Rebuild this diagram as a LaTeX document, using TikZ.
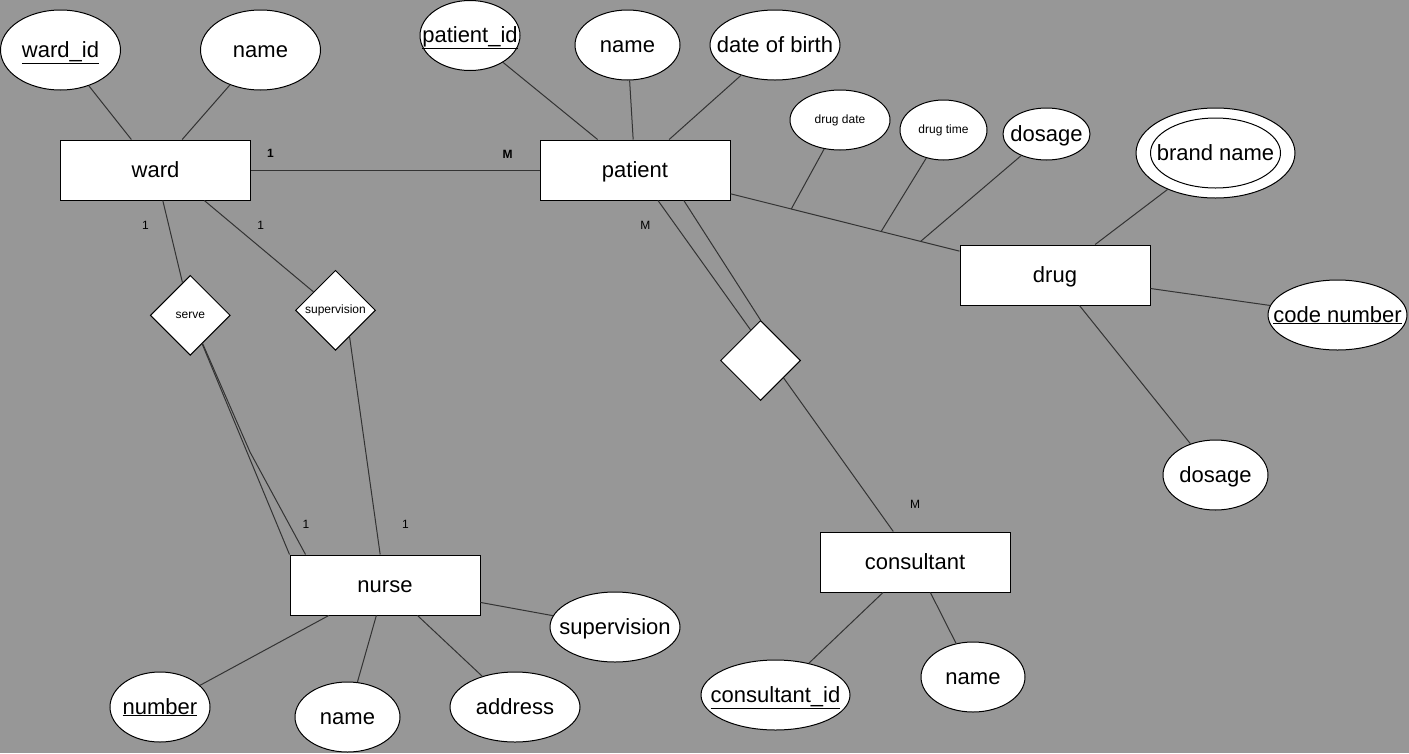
\documentclass[tikz,border=0pt]{standalone}
\usepackage{fontspec}
\setmainfont{Liberation Sans}
\usetikzlibrary{shapes.geometric,calc}
\definecolor{canvas}{RGB}{151,151,151}
\definecolor{wire}{RGB}{51,51,51}
\newcommand{\fitin}[1]{\makebox[0pt]{#1}}

\begin{document}
\begin{tikzpicture}[x=1pt,y=-1pt,
  entity/.style={draw=black,fill=white,line width=1pt,minimum width=190pt,minimum height=60pt,inner sep=0pt,text height=17pt,text depth=3pt,font=\fontsize{22}{26}\selectfont},
  attrib/.style={ellipse,draw=black,fill=white,line width=1pt,inner sep=0pt,text height=17pt,text depth=3pt,font=\fontsize{22}{26}\selectfont},
  smallattr/.style={attrib,text height=9pt,text depth=2pt,font=\fontsize{12}{14}\selectfont},
  relship/.style={diamond,draw=black,fill=white,line width=1pt,inner sep=0pt,minimum width=80pt,minimum height=80pt,text height=9pt,text depth=2pt,font=\fontsize{12}{14}\selectfont},
  link/.style={draw=wire,line width=1pt},
  card/.style={inner sep=0pt,font=\fontsize{12}{14}\selectfont}]
\useasboundingbox (0,0) rectangle (1409,753);
\fill[canvas] (0,0) rectangle (1409,753);

% Entities
\node[entity] (ward) at (155.5,170) {ward};
\node[entity] (patient) at (635,170) {patient};
\node[entity] (drug) at (1055,275) {drug};
\node[entity] (nurse) at (385,585) {nurse};
\node[entity] (consultant) at (915,562) {consultant};

% Relationships
\node[relship] (serve) at (190.3,315.3) {serve};
\node[relship] (supervise) at (335.5,310.3) {\fitin{supervision}};
\node[relship] (consults) at (760.5,360.5) {};

% Ward attributes
\node[attrib,minimum width=120pt,minimum height=80pt] (wardid) at (60.5,50) {\fitin{\underline{ward\_id}}};
\node[attrib,minimum width=120pt,minimum height=80pt] (wardname) at (260.5,50) {\fitin{name}};

% Patient attributes
\node[attrib,minimum width=100pt,minimum height=70pt] (patientid) at (470,35.5) {\fitin{\underline{patient\_id}}};
\node[attrib,minimum width=105pt,minimum height=70pt] (patientname) at (627.5,45) {\fitin{name}};
\node[attrib,minimum width=130pt,minimum height=70pt] (birth) at (775,45) {\fitin{date of birth}};

% Prescription attributes
\node[smallattr,minimum width=100pt,minimum height=60pt] (drugdate) at (840,120) {\fitin{drug date}};
\node[smallattr,minimum width=87pt,minimum height=60pt] (drugtime) at (943.5,130) {\fitin{drug time}};
\node[attrib,minimum width=87pt,minimum height=52pt] (dosetop) at (1046.5,134) {\fitin{dosage}};

% Drug attributes
\node[attrib,minimum width=159pt,minimum height=90pt] (brand) at (1215.5,153) {};
\node[attrib,minimum width=130pt,minimum height=70pt] (brandin) at (1215.5,153) {\fitin{brand name}};
\node[attrib,minimum width=139pt,minimum height=70pt] (code) at (1337.5,315) {\fitin{\underline{code number}}};
\node[attrib,minimum width=105pt,minimum height=70pt] (dosage) at (1215.5,475) {\fitin{dosage}};

% Nurse attributes
\node[attrib,minimum width=100pt,minimum height=70pt] (number) at (160,707) {\fitin{\underline{number}}};
\node[attrib,minimum width=105pt,minimum height=70pt] (nursename) at (347.5,717) {\fitin{name}};
\node[attrib,minimum width=130pt,minimum height=70pt] (address) at (515,707) {\fitin{address}};
\node[attrib,minimum width=130pt,minimum height=70pt] (supattr) at (615,627) {\fitin{supervision}};

% Consultant attributes
\node[attrib,minimum width=149pt,minimum height=70pt] (consid) at (775.5,695) {\fitin{\underline{consultant\_id}}};
\node[attrib,minimum width=104pt,minimum height=70pt] (consname) at (973,677) {\fitin{name}};

% Connectors
\coordinate (tapdate) at ($(patient)!0.372!(drug)$);
\coordinate (taptime) at ($(patient)!0.586!(drug)$);
\coordinate (tapdose) at ($(patient)!0.680!(drug)$);
\coordinate (servebend) at (250,452);

\draw[link] (wardid) -- (ward);
\draw[link] (wardname) -- (ward);
\draw[link] (ward) -- (patient);
\draw[link] (ward) -- (serve);
\draw[link] (ward.-32) -- (supervise);
\draw[link] (serve) -- (nurse.north west);
\draw[link] (serve) -- (servebend) -- (nurse.159);
\draw[link] (supervise.-62) -- (nurse.99);

\draw[link] (patientid) -- (patient);
\draw[link] (patientname) -- (patient);
\draw[link] (birth) -- (patient);
\draw[link] (patient) -- (drug);
\draw[link] (drugdate) -- (tapdate);
\draw[link] (drugtime) -- (taptime);
\draw[link] (dosetop) -- (tapdose);
\draw[link] (patient.-53) -- (consults.108);
\draw[link] (patient.-32) -- (consults.north);
\draw[link] (consults.-37) -- (consultant);

\draw[link] (brand) -- (drug);
\draw[link] (drug) -- (code);
\draw[link] (drug) -- (dosage);

\draw[link] (nurse) -- (number);
\draw[link] (nurse) -- (nursename);
\draw[link] (nurse) -- (address);
\draw[link] (nurse) -- (supattr);

\draw[link] (consultant) -- (consid);
\draw[link] (consultant) -- (consname);

% Cardinalities
\node[card,font=\fontsize{12}{14}\selectfont\bfseries] (c1) at (270.4,153.3) {1};
\node[card,font=\fontsize{12}{14}\selectfont\bfseries] (c2) at (507.5,154.3) {M};
\node[card] (c3) at (145.4,225) {1};
\node[card] (c4) at (260.7,225) {1};
\node[card] (c5) at (645.4,225) {M};
\node[card] (c6) at (305.9,524.3) {1};
\node[card] (c7) at (405.4,524.3) {1};
\node[card] (c8) at (915,504) {M};
\end{tikzpicture}
\end{document}
